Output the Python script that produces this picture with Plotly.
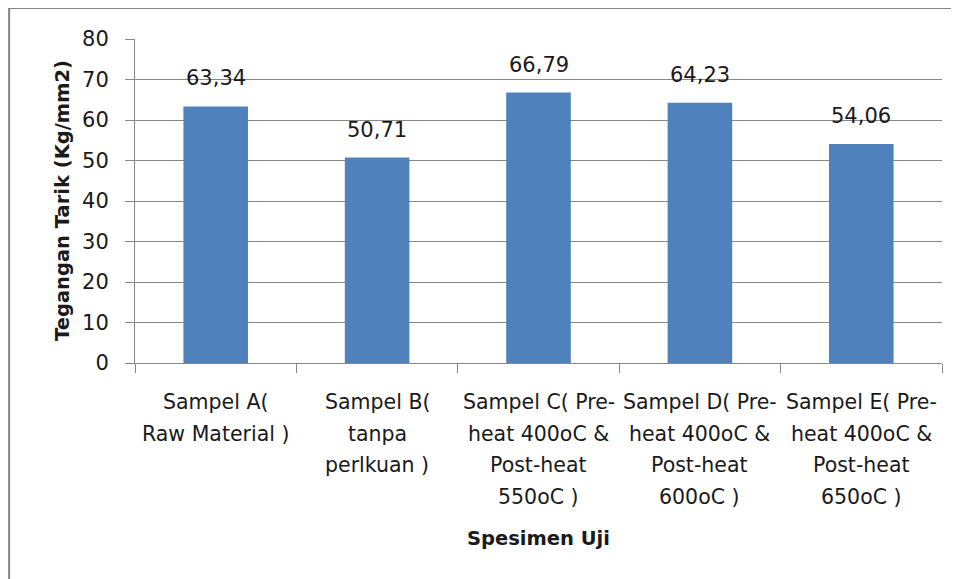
import plotly.graph_objects as go

categories = ["Sampel A", "Sampel B", "Sampel C", "Sampel D", "Sampel E"]
category_lines = [
    ["Sampel A(", "Raw Material )"],
    ["Sampel B(", "tanpa", "perlkuan )"],
    ["Sampel C( Pre-", "heat 400oC &", "Post-heat", "550oC )"],
    ["Sampel D( Pre-", "heat 400oC &", "Post-heat", "600oC )"],
    ["Sampel E( Pre-", "heat 400oC &", "Post-heat", "650oC )"],
]
values = [63.34, 50.71, 66.79, 64.23, 54.06]
y_ticks = [0, 10, 20, 30, 40, 50, 60, 70, 80]
y_title = "Tegangan Tarik (Kg/mm2)"
x_title = "Spesimen Uji"

FONT = "DejaVu Sans"
FS = 21
TXT = "#1a1a1a"
GRID = "#888888"

fig = go.Figure()
fig.add_trace(go.Bar(
    x=categories, y=values, marker=dict(color="#4F81BD", line=dict(width=0)),
    width=0.4, hoverinfo="skip",
))

annotations = []
for c, v in zip(categories, values):
    annotations.append(dict(
        x=c, y=v, xref="x", yref="y", text=f"{v:.2f}".replace(".", ","),
        showarrow=False, yanchor="middle", yshift=28,
        font=dict(family=FONT, size=FS, color=TXT),
    ))

# category labels (multi-line with Excel-like spacing)
for c, lines in zip(categories, category_lines):
    for i, ln in enumerate(lines):
        annotations.append(dict(
            x=c, y=0, xref="x", yref="paper", text=ln, showarrow=False,
            yanchor="middle", yshift=-39 - 31.5 * i,
            font=dict(family=FONT, size=20.5, color=TXT),
        ))

annotations.append(dict(
    x=0.5, y=0, xref="paper", yref="paper", text=f"<b>{x_title}</b>",
    showarrow=False, yanchor="middle", yshift=-175,
    font=dict(family=FONT, size=19.5, color=TXT),
))
annotations.append(dict(
    x=0, y=0.5, xref="paper", yref="paper", text=f"<b>{y_title}</b>",
    showarrow=False, xanchor="center", xshift=-73, textangle=-90,
    font=dict(family=FONT, size=19.5, color=TXT),
))

fig.update_layout(
    width=959, height=579,
    margin=dict(l=127, r=25, t=31, b=224),
    paper_bgcolor="white", plot_bgcolor="white",
    showlegend=False,
    annotations=annotations,
    xaxis=dict(
        type="category", showticklabels=False, tickson="boundaries",
        ticks="outside", ticklen=9, tickcolor=GRID, showline=True,
        linecolor=GRID, linewidth=1, showgrid=False, zeroline=False,
        fixedrange=True,
    ),
    yaxis=dict(
        range=[0, 80], tickvals=y_ticks, ticks="outside", ticklen=9,
        tickcolor=GRID, showline=True, linecolor=GRID, linewidth=1,
        showgrid=True, gridcolor=GRID, gridwidth=1, zeroline=False,
        tickfont=dict(family=FONT, size=FS, color=TXT),
        ticklabelstandoff=12, fixedrange=True,
    ),
    shapes=[dict(
        type="rect", xref="paper", yref="paper",
        x0=-0.156, x1=1.2, y0=-1.0, y1=1.0957,
        line=dict(color="#858585", width=2), fillcolor="rgba(0,0,0,0)",
        layer="below",
    )],
)

fig.write_html("out.html")
